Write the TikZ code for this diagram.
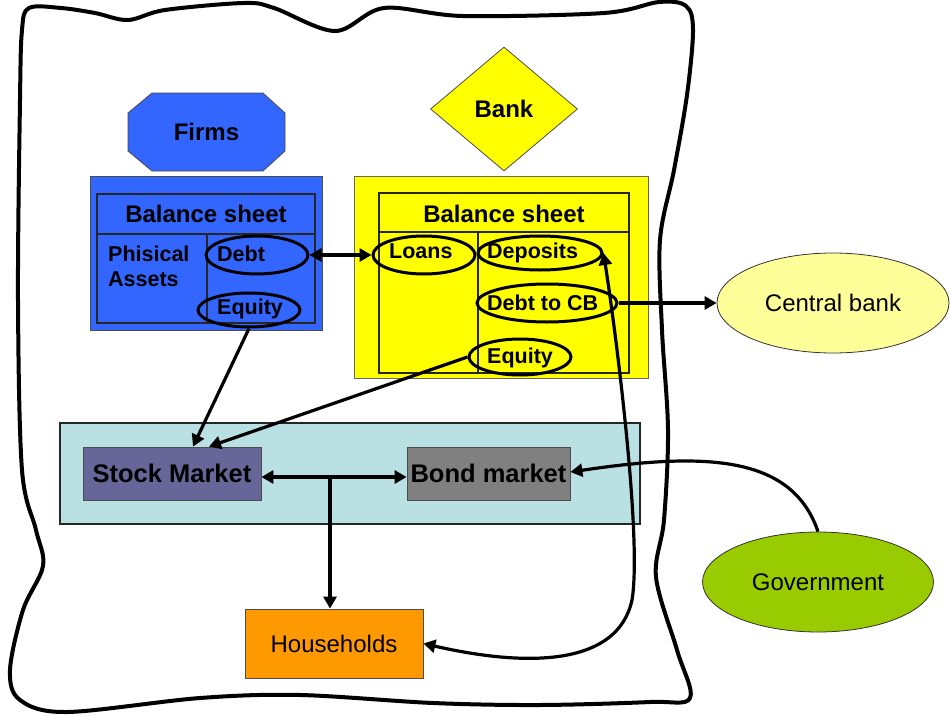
\documentclass[tikz,border=0pt]{standalone}
\usepackage{fontspec}
\setmainfont{Liberation Sans}
\usetikzlibrary{shapes.geometric,arrows.meta}
\definecolor{firmblue}{HTML}{3366FF}
\definecolor{bankyel}{HTML}{FFFF00}
\definecolor{mktblue}{HTML}{B9E0E3}
\definecolor{stockc}{HTML}{666699}
\definecolor{bondc}{HTML}{808080}
\definecolor{hhc}{HTML}{FF9900}
\definecolor{cbc}{HTML}{FFFF99}
\definecolor{govc}{HTML}{99CC00}
\begin{document}
\begin{tikzpicture}[x=1pt,y=-1pt,
  arr/.style={line width=3.2pt,-{Triangle[length=12pt,width=13pt]}},
  darr/.style={line width=3.2pt,{Triangle[length=12pt,width=13pt]}-{Triangle[length=12pt,width=13pt]}},
  oval/.style={ellipse,draw,line width=3pt,inner sep=0pt},
  boxn/.style={draw,inner sep=0pt},
  bt/.style={font=\bfseries\fontsize{24}{26}\selectfont},
  ct/.style={font=\bfseries\fontsize{21.5}{26}\selectfont,anchor=base west,inner sep=0pt},
  rt/.style={font=\fontsize{24}{26}\selectfont},
  tbl/.style={line width=1.4pt,draw=black!85}
]
\useasboundingbox (0,0) rectangle (950,717);

% outer wavy border
\draw[line width=4pt,line join=round] plot[smooth cycle,tension=0.55] coordinates {
 (29,8) (61,8) (95,13) (128,20) (165,10) (244,3) (274,8) (335,31) (384,8) (463,16)
 (604,13) (659,2) (686,6) (693,30) (687,95) (674,170) (660,240) (662,330) (668,430)
 (664,520) (656,577) (677,650) (690,698) (650,702) (540,705) (433,703) (300,695) (200,698)
 (67,712) (20,700) (10,670) (23,610) (43,566) (36,530) (22,470) (18,300) (20,100) (22,30)};

% Firms octagon
\fill[firmblue,draw=black!70,line width=0.8pt] (128,113)--(152,93)--(263,93)--(285,113)--(285,151)--(263,171)--(152,171)--(128,151)--cycle;
\node[bt] (firms) at (206.5,132) {Firms};

% Bank diamond
\node[diamond,boxn,fill=bankyel,draw=black!70,line width=0.8pt,minimum width=147pt,minimum height=124pt,aspect=1.2,bt] (bank) at (504,109) {Bank};

% Firms balance sheet
\node[boxn,fill=firmblue,draw=black!70,line width=0.8pt,minimum width=232pt,minimum height=154pt] (fbox) at (206,253) {};
\draw[tbl] (97,194) rectangle (315,323);
\draw[tbl] (97,234) -- (315,234);
\draw[tbl] (207,234) -- (207,323);
\node[bt,anchor=base,inner sep=0pt] (fbs) at (206,222) {Balance sheet};
\node[ct] (phys1) at (108,261) {Phisical};
\node[ct] (phys2) at (108,286) {Assets};
\node[oval,minimum width=102pt,minimum height=38pt] (debt) at (257,255) {};
\node[ct] (debtt) at (217,261) {Debt};
\node[oval,minimum width=102pt,minimum height=34pt] (fequity) at (249,310) {};
\node[ct] (fequityt) at (217,314) {Equity};

% Bank balance sheet
\node[boxn,fill=bankyel,draw=black!60,line width=0.8pt,minimum width=294pt,minimum height=202pt] (bbox) at (501,277) {};
\draw[tbl] (379,193) rectangle (629,373);
\draw[tbl] (379,232) -- (629,232);
\draw[tbl] (478,232) -- (478,373);
\node[bt,anchor=base,inner sep=0pt] (bbs) at (504,222) {Balance sheet};
\node[oval,minimum width=102pt,minimum height=38pt] (loans) at (424,255) {};
\node[ct] (loanst) at (389,258) {Loans};
\node[oval,minimum width=124pt,minimum height=34pt] (dep) at (540,253) {};
\node[ct] (dept) at (487,258) {Deposits};
\node[oval,minimum width=140pt,minimum height=38pt] (dcb) at (547,303) {};
\node[ct] (dcbt) at (487,310) {Debt to CB};
\node[oval,minimum width=102pt,minimum height=36pt] (bequity) at (520,357) {};
\node[ct] (bequityt) at (487,363) {Equity};

% Markets
\node[boxn,fill=mktblue,draw=black!85,line width=2pt,minimum width=580pt,minimum height=101pt] (mkt) at (350,473.5) {};
\node[boxn,fill=stockc,draw=black!70,line width=0.8pt,minimum width=178pt,minimum height=53pt,font=\bfseries\fontsize{25.5}{26}\selectfont] (stock) at (172,473.5) {Stock Market};
\node[boxn,fill=bondc,draw=black!70,line width=0.8pt,minimum width=163pt,minimum height=53pt,font=\bfseries\fontsize{25.5}{26}\selectfont] (bond) at (488.5,473.5) {Bond market};

% Households
\node[boxn,fill=hhc,draw=black!70,line width=0.8pt,minimum width=178pt,minimum height=69pt,rt] (hh) at (334,643.5) {Households};

% Central bank, Government
\node[ellipse,boxn,fill=cbc,draw=black!80,line width=0.8pt,minimum width=232pt,minimum height=100pt,rt] (cb) at (833,303) {Central bank};
\node[ellipse,boxn,fill=govc,draw=black!80,line width=0.8pt,minimum width=231pt,minimum height=100pt,rt] (gov) at (818,582) {Government};

% connectors
\draw[darr] (debt.east) -- (loans.west);
\draw[arr] (dcb.east) -- (cb.west);
\draw[arr] (fequity.south) -- ([xshift=21pt]stock.north);
\draw[arr] (bequity.west) -- ([xshift=37pt]stock.north);
\draw[darr] ([yshift=-3.5pt]stock.east) -- ([yshift=-3.5pt]bond.west);
\coordinate (jn) at (330,477);
\draw[arr] (jn) -- (jn |- hh.north);
\draw[arr] (gov.north) .. controls (792,455) and (705,452) .. ([yshift=1.5pt]bond.east);
\draw[darr] (hh.east) .. controls (530,668) and (618,665) .. (632,600) .. controls (642,540) and (617,340) .. (dep.east);
\end{tikzpicture}
\end{document}
